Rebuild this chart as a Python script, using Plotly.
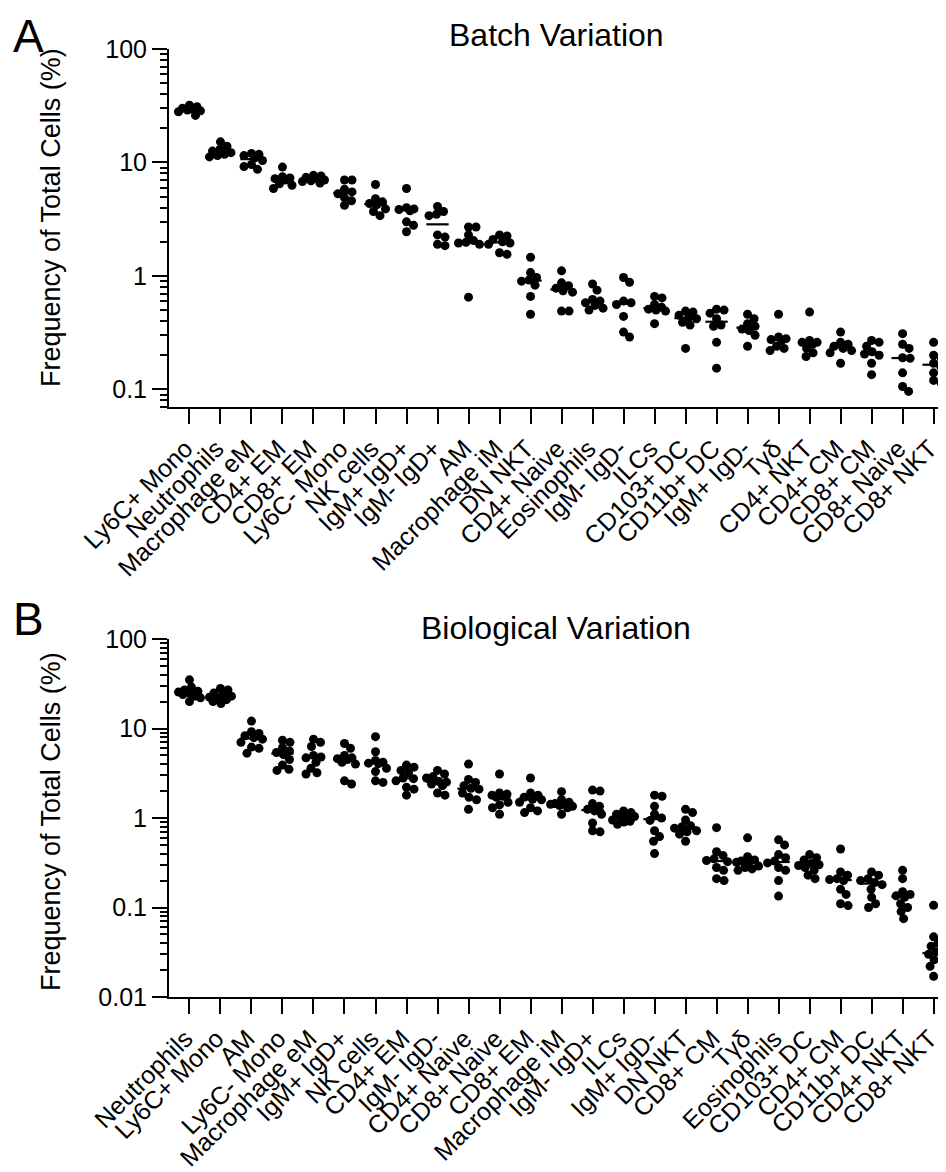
import numpy as np
import plotly.graph_objects as go

# ---------------- data ----------------
cats_a = ["Ly6C+ Mono", "Neutrophils", "Macrophage eM", "CD4+ EM", "CD8+ EM", "Ly6C- Mono",
          "NK cells", "IgM+ IgD+", "IgM- IgD+", "AM", "Macrophage iM", "DN NKT", "CD4+ Naive",
          "Eosinophils", "IgM- IgD-", "ILCs", "CD103+ DC", "CD11b+ DC", "IgM+ IgD-", "Tγδ",
          "CD4+ NKT", "CD4+ CM", "CD8+ CM", "CD8+ Naive", "CD8+ NKT"]

vals_a = [
    [32, 31, 30, 29.5, 29, 28.5, 28, 26],
    [15.2, 13.9, 13.0, 12.6, 12.2, 11.8, 11.5, 11.2],
    [12.0, 11.8, 11.5, 11.0, 10.4, 9.6, 9.2, 8.7],
    [9.1, 7.5, 7.3, 7.2, 7.0, 6.5, 6.3, 5.9],
    [7.7, 7.6, 7.4, 7.2, 7.0, 6.9, 6.8, 6.6],
    [7.0, 7.0, 5.8, 5.5, 5.3, 4.9, 4.6, 4.2],
    [6.4, 4.8, 4.5, 4.35, 4.25, 3.9, 3.7, 3.4],
    [5.9, 4.0, 3.9, 3.85, 3.75, 3.0, 2.8, 2.45],
    [4.1, 3.7, 3.5, 3.4, 2.3, 2.2, 1.9, 1.85],
    [2.7, 2.7, 2.3, 2.05, 1.98, 1.95, 1.9, 0.65],
    [2.3, 2.25, 2.1, 2.0, 1.95, 1.9, 1.6, 1.55],
    [1.46, 1.07, 0.97, 0.92, 0.9, 0.83, 0.66, 0.46],
    [1.11, 0.87, 0.82, 0.78, 0.74, 0.72, 0.49, 0.49],
    [0.85, 0.75, 0.62, 0.6, 0.58, 0.55, 0.52, 0.50],
    [0.97, 0.88, 0.6, 0.58, 0.56, 0.44, 0.32, 0.29],
    [0.66, 0.64, 0.56, 0.53, 0.51, 0.5, 0.49, 0.38],
    [0.49, 0.48, 0.45, 0.43, 0.42, 0.39, 0.37, 0.23],
    [0.51, 0.50, 0.47, 0.42, 0.37, 0.36, 0.26, 0.154],
    [0.46, 0.42, 0.38, 0.36, 0.34, 0.33, 0.30, 0.24],
    [0.46, 0.29, 0.28, 0.275, 0.27, 0.24, 0.23, 0.22],
    [0.48, 0.27, 0.26, 0.26, 0.25, 0.23, 0.21, 0.195],
    [0.32, 0.26, 0.25, 0.24, 0.23, 0.22, 0.21, 0.17],
    [0.27, 0.26, 0.24, 0.215, 0.205, 0.20, 0.17, 0.135],
    [0.31, 0.25, 0.23, 0.19, 0.188, 0.14, 0.106, 0.096],
    [0.26, 0.2, 0.19, 0.17, 0.16, 0.14, 0.12, 0.114],
]

cats_b = ["Neutrophils", "Ly6C+ Mono", "AM", "Ly6C- Mono", "Macrophage eM", "IgM+ IgD+",
          "NK cells", "CD4+ EM", "IgM- IgD-", "CD4+ Naive", "CD8+ Naive", "CD8+ EM",
          "Macrophage iM", "IgM- IgD+", "ILCs", "IgM+ IgD-", "DN NKT", "CD8+ CM", "Tγδ",
          "Eosinophils", "CD103+ DC", "CD4+ CM", "CD11b+ DC", "CD4+ NKT", "CD8+ NKT"]

vals_b = [
    [35, 29, 27, 26, 25.5, 24.7, 24, 23, 22, 20],
    [28, 27, 25, 24, 23, 22.4, 22, 21, 20, 19],
    [12.1, 9.2, 8.8, 8.3, 7.9, 7.6, 7.0, 6.2, 6.0, 5.3],
    [7.4, 7.0, 6.1, 5.6, 5.4, 5.1, 4.5, 3.9, 3.5, 3.4],
    [7.6, 7.0, 6.3, 5.0, 4.8, 4.7, 4.2, 3.6, 3.2, 3.1],
    [6.8, 6.0, 5.0, 4.7, 4.6, 4.5, 4.2, 4.0, 2.6, 2.4],
    [8.1, 5.5, 4.4, 4.2, 4.1, 4.05, 3.6, 3.3, 2.6, 2.5],
    [3.9, 3.7, 3.4, 3.2, 2.8, 2.75, 2.6, 2.2, 2.1, 1.8],
    [3.4, 3.1, 2.9, 2.8, 2.55, 2.52, 2.4, 2.3, 1.9, 1.8],
    [4.0, 2.7, 2.5, 2.3, 2.15, 2.1, 1.9, 1.7, 1.6, 1.25],
    [3.1, 1.9, 1.85, 1.8, 1.75, 1.7, 1.5, 1.4, 1.3, 1.1],
    [2.8, 1.9, 1.8, 1.7, 1.62, 1.6, 1.5, 1.3, 1.2, 1.15],
    [1.97, 1.6, 1.5, 1.45, 1.44, 1.42, 1.38, 1.35, 1.3, 1.1],
    [2.05, 2.0, 1.45, 1.35, 1.25, 1.2, 1.1, 0.88, 0.72, 0.7],
    [1.2, 1.15, 1.1, 1.05, 1.04, 1.02, 0.95, 0.92, 0.9, 0.85],
    [1.8, 1.75, 1.35, 1.1, 1.0, 0.94, 0.72, 0.62, 0.55, 0.40],
    [1.25, 1.15, 0.95, 0.82, 0.8, 0.77, 0.72, 0.7, 0.66, 0.55],
    [0.78, 0.42, 0.38, 0.35, 0.335, 0.325, 0.28, 0.26, 0.21, 0.20],
    [0.6, 0.37, 0.34, 0.33, 0.325, 0.32, 0.29, 0.28, 0.27, 0.26],
    [0.57, 0.5, 0.39, 0.36, 0.33, 0.315, 0.28, 0.26, 0.2, 0.134],
    [0.39, 0.36, 0.34, 0.31, 0.30, 0.295, 0.28, 0.26, 0.23, 0.21],
    [0.45, 0.25, 0.23, 0.21, 0.205, 0.20, 0.16, 0.14, 0.11, 0.105],
    [0.25, 0.23, 0.21, 0.2, 0.19, 0.18, 0.16, 0.13, 0.11, 0.10],
    [0.26, 0.21, 0.15, 0.14, 0.135, 0.13, 0.11, 0.1, 0.09, 0.075],
    [0.106, 0.047, 0.04, 0.037, 0.032, 0.030, 0.029, 0.026, 0.022, 0.017],
]

titles = ["Batch Variation", "Biological Variation"]
panel_letters = ["A", "B"]
ytitle = "Frequency of Total Cells (%)"

# ---------------- geometry (page body has an 8px margin) ----------------
OFF = 8
W, H = 946 - OFF, 1172 - OFF


def px(v):
    return v - OFF


x_left_px = px(169)
x_range = [-0.66, 24.4]
px_per_unit = (W - x_left_px) / (x_range[1] - x_range[0])
a_top, a_bot = px(49), px(407)
b_top, b_bot = px(639), px(997)
a_yr = [np.log10(0.07), 2]
b_yr = [-2, 2]
FONT = "Liberation Sans, Arial, sans-serif"
DOT = 9


def swarm(vals, px_per_dec, d=7.5, maxw=11.0):
    ys = np.log10(np.array(vals, float)) * px_per_dec
    order = np.argsort(-ys)
    cands = [0.0]
    k = 1
    while 0.5 * k <= maxw:
        cands += [0.5 * k, -0.5 * k]
        k += 1
    placed = []
    offs = np.zeros(len(vals))
    for idx in order:
        y = ys[idx]
        best, best_d = 0.0, -1
        chosen = None
        for c in cands:
            md = min([np.hypot(c - xo, y - yo) for xo, yo in placed] or [1e9])
            if md >= d:
                chosen = c
                break
            if md > best_d:
                best, best_d = c, md
        if chosen is None:
            chosen = best
        offs[idx] = chosen
        placed.append((chosen, y))
    return offs / px_per_unit


fig = go.Figure()
panels = [
    (cats_a, vals_a, "x", "y", (a_bot - a_top) / (a_yr[1] - a_yr[0])),
    (cats_b, vals_b, "x2", "y2", (b_bot - b_top) / (b_yr[1] - b_yr[0])),
]
for cats, vals, xa, ya, ppd in panels:
    xs, ys, lx, ly = [], [], [], []
    for i, v in enumerate(vals):
        off = swarm(v, ppd)
        xs += list(i + off)
        ys += list(v)
        med = float(np.median(v))
        lx += [i - 0.36, i + 0.36, None]
        ly += [med, med, None]
    fig.add_trace(go.Scatter(x=xs, y=ys, mode="markers", xaxis=xa, yaxis=ya, cliponaxis=False,
                             marker=dict(color="black", size=DOT, line=dict(width=0)),
                             showlegend=False, hoverinfo="skip"))
    fig.add_trace(go.Scatter(x=lx, y=ly, mode="lines", xaxis=xa, yaxis=ya, cliponaxis=False,
                             line=dict(color="black", width=2.2),
                             showlegend=False, hoverinfo="skip"))


def ydom(top, bot):
    return [(H - bot) / H, (H - top) / H]


def xaxis_cfg(cats, anchor):
    return dict(domain=[x_left_px / W, 1], range=x_range, anchor=anchor,
                tickmode="array", tickvals=list(range(len(cats))), ticktext=cats,
                tickangle=-45, ticks="outside", ticklen=15, tickwidth=2, tickcolor="black",
                ticklabelshift=-4,
                showline=True, linewidth=2, linecolor="black", showgrid=False,
                zeroline=False, automargin=False,
                tickfont=dict(family=FONT, size=25, color="black"))


def minor_vals(lo, hi):
    out = []
    for e in range(lo, hi):
        for m in range(2, 10):
            out.append(m * 10.0 ** e)
    return out


def yaxis_cfg(top, bot, rng, tv, tt, anchor, mlo, mhi):
    return dict(domain=ydom(top, bot), type="log", range=rng, anchor=anchor,
                tickmode="array", tickvals=tv, ticktext=tt,
                ticks="outside", ticklen=15, tickwidth=2, tickcolor="black",
                minor=dict(tickmode="array", tickvals=minor_vals(mlo, mhi), ticks="outside",
                           ticklen=7, tickwidth=2, tickcolor="black", showgrid=False),
                showline=True, linewidth=2, linecolor="black", showgrid=False,
                zeroline=False, automargin=False,
                tickfont=dict(family=FONT, size=25, color="black"))


annotations = []
panel_text = [
    (titles[0], panel_letters[0], px(35), None, px(218)),
    (titles[1], panel_letters[1], px(628), px(619), px(822)),
]
for title, letter, tcy, lcy, ycy in panel_text:
    annotations.append(dict(text=title, xref="paper", yref="paper",
                            x=px(556) / W, y=(H - tcy) / H,
                            xanchor="center", yanchor="middle", showarrow=False,
                            font=dict(family=FONT, size=32, color="black")))
    if lcy is None:
        annotations.append(dict(text=letter, xref="paper", yref="paper",
                                x=px(28) / W, y=1.0,
                                xanchor="center", yanchor="top", showarrow=False,
                                font=dict(family=FONT, size=46, color="black")))
    else:
        annotations.append(dict(text=letter, xref="paper", yref="paper",
                                x=px(28) / W, y=(H - lcy) / H,
                                xanchor="center", yanchor="middle", showarrow=False,
                                font=dict(family=FONT, size=46, color="black")))
    annotations.append(dict(text=ytitle, xref="paper", yref="paper",
                            x=px(51) / W, y=(H - ycy) / H, textangle=-90,
                            xanchor="center", yanchor="middle", showarrow=False,
                            font=dict(family=FONT, size=27, color="black")))

fig.update_layout(
    width=W, height=H, margin=dict(l=0, r=0, t=0, b=0),
    paper_bgcolor="white", plot_bgcolor="white",
    xaxis=xaxis_cfg(cats_a, "y"),
    yaxis=yaxis_cfg(a_top, a_bot, a_yr, [0.1, 1, 10, 100], ["0.1", "1", "10", "100"], "x", -2, 2),
    xaxis2=xaxis_cfg(cats_b, "y2"),
    yaxis2=yaxis_cfg(b_top, b_bot, b_yr, [0.01, 0.1, 1, 10, 100],
                     ["0.01", "0.1", "1", "10", "100"], "x2", -2, 2),
    annotations=annotations,
    showlegend=False,
)

fig.write_html("out.html")
